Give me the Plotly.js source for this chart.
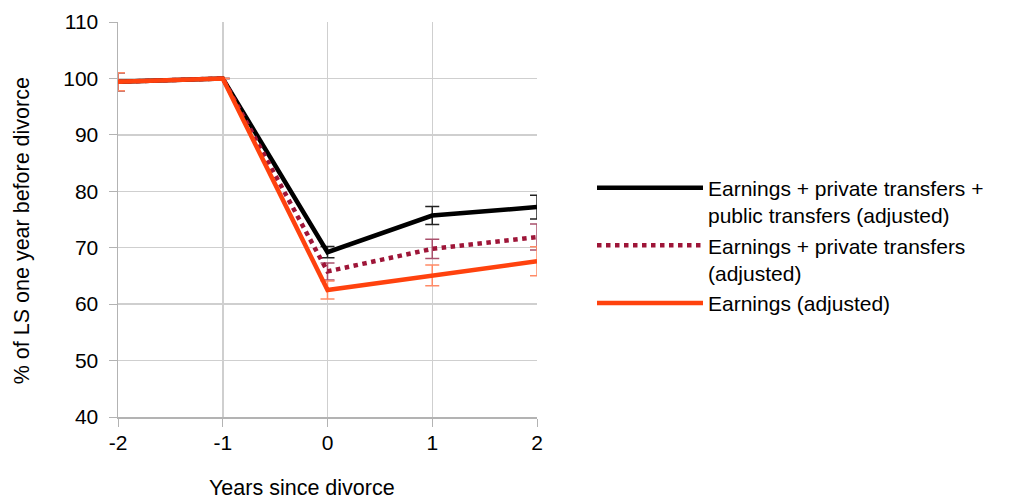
<!DOCTYPE html>
<html><head><meta charset="utf-8">
<script src="https://cdn.plot.ly/plotly-3.0.1.min.js"></script>
<style>body{margin:0;background:#fff}#c{width:1016px;height:499px}</style>
</head><body><div id="c"></div>
<script>
var years = [-2, -1, 0, 1, 2];
var yearLabels = ['-2', '-1', '0', '1', '2'];
var totalVals = [99.4, 100, 69.2, 75.7, 77.2];
var totalErr = [1.6, 0, 1.0, 1.6, 2.1];
var privVals = [99.4, 100, 65.8, 69.8, 71.9];
var privErr = [1.6, 0, 1.5, 1.7, 2.3];
var earnVals = [99.4, 100, 62.5, 65.1, 67.6];
var earnErr = [1.6, 0, 1.6, 1.85, 2.55];
var names = ['Earnings + private transfers +<br>public transfers (adjusted)',
             'Earnings + private transfers<br>(adjusted)',
             'Earnings (adjusted)'];
var yTicks = [40, 50, 60, 70, 80, 90, 100, 110];
var xTitle = 'Years since divorce';
var yTitle = '% of LS one year before divorce';

function tr(y, e, name, color, ecolor, dash) {
  return {x: years, y: y, name: name, type: 'scatter', mode: 'lines',
    line: {color: color, width: 4.5, dash: dash},
    error_y: {type: 'data', array: e, visible: true, color: ecolor, thickness: 1.5, width: 7}};
}
var data = [
  tr(totalVals, totalErr, names[0], '#000000', '#222222', 'solid'),
  tr(privVals, privErr, names[1], '#9e1538', '#a9506c', 'dot'),
  tr(earnVals, earnErr, names[2], '#ff420e', '#ff8a66', 'solid')
];
var L = 118, R = 537, T = 21.5, B = 417;
function px(x) { return (x - L) / (R - L); }
function py(y) { return (B - y) / (B - T); }
var layout = {
  width: 1016, height: 499,
  margin: {l: L, r: 1016 - R, t: T, b: 499 - B},
  paper_bgcolor: '#fff', plot_bgcolor: '#fff',
  font: {family: 'Liberation Sans, Arial, sans-serif', color: '#000'},
  xaxis: {range: [-2, 2], tickvals: years, ticktext: yearLabels, ticks: 'outside', ticklen: 8, tickcolor: '#b3b3b3',
    showgrid: true, gridcolor: '#cfcfcf', gridwidth: 1.5, zeroline: false,
    showline: true, linecolor: '#b3b3b3', linewidth: 1.5, ticklabelstandoff: -2,
    tickfont: {size: 21}},
  yaxis: {range: [40, 110], tickvals: yTicks, ticks: 'outside', ticklen: 8, tickcolor: '#b3b3b3',
    showgrid: true, gridcolor: '#cfcfcf', gridwidth: 1.5, zeroline: false,
    showline: true, linecolor: '#b3b3b3', linewidth: 1.5, ticklabelstandoff: 6,
    tickfont: {size: 21}},
  annotations: [
    {text: xTitle, xref: 'paper', yref: 'paper', x: px(301.5), y: py(488), xanchor: 'center', yanchor: 'middle',
     showarrow: false, font: {size: 21.5}},
    {text: yTitle, xref: 'paper', yref: 'paper', x: px(22), y: py(231), xanchor: 'center', yanchor: 'middle',
     textangle: -90, showarrow: false, font: {size: 21.5}}
  ],
  showlegend: true,
  legend: {xref: 'paper', y: 0.434, yanchor: 'middle', font: {size: 21}, itemwidth: 106,
    valign: 'top', tracegroupgap: 0, bgcolor: 'rgba(0,0,0,0)'}
};
layout.legend.x = px(592);
Plotly.newPlot('c', data, layout, {displayModeBar: false, staticPlot: true});
</script></body></html>
